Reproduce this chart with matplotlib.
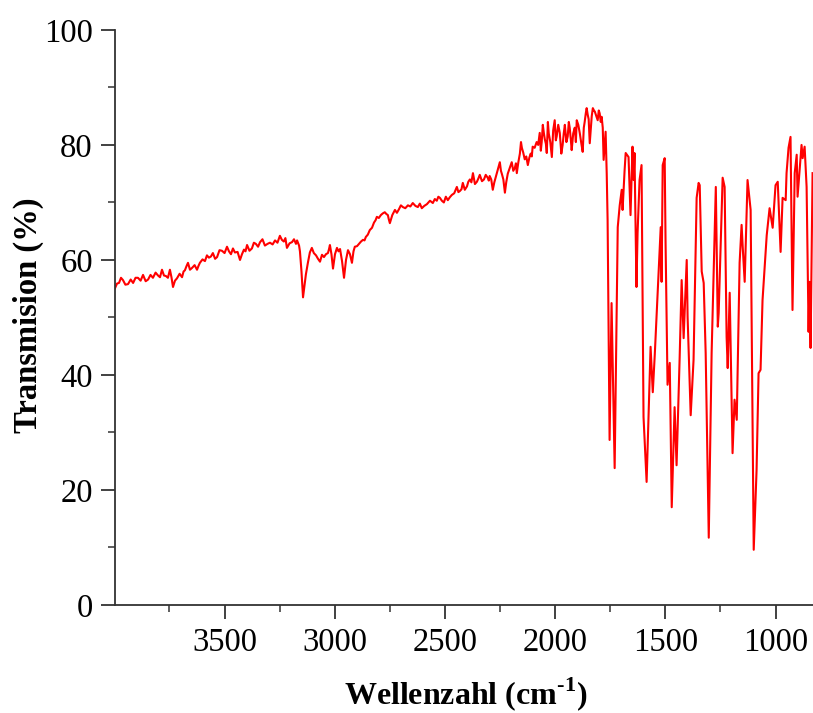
import numpy as np
import matplotlib
matplotlib.use("Agg")
import matplotlib.pyplot as plt
from matplotlib.ticker import MultipleLocator

plt.rcParams['font.family'] = ['Liberation Serif', 'DejaVu Serif']
plt.rcParams['mathtext.fontset'] = 'custom'
plt.rcParams['mathtext.rm'] = 'Liberation Serif:bold'
plt.rcParams['mathtext.bf'] = 'Liberation Serif:bold'

# IR spectrum (wavenumber in cm-1, transmission in %)
wellenzahl = [
    3997, 3988, 3979, 3970, 3961, 3950, 3938, 3926, 3915, 3904,
    3893, 3881, 3870, 3858, 3847, 3836, 3825, 3813, 3802, 3793,
    3784, 3775, 3766, 3757, 3748, 3741, 3734, 3725, 3716, 3704,
    3693, 3686, 3680, 3673, 3666, 3657, 3648, 3636, 3625, 3618,
    3612, 3600, 3589, 3580, 3571, 3562, 3553, 3543, 3534, 3523,
    3512, 3500, 3489, 3480, 3471, 3462, 3453, 3441, 3430, 3421,
    3412, 3405, 3398, 3387, 3376, 3367, 3358, 3348, 3339, 3328,
    3317, 3305, 3294, 3282, 3271, 3260, 3249, 3240, 3231, 3224,
    3217, 3205, 3194, 3185, 3176, 3171, 3167, 3162, 3158, 3151,
    3144, 3131, 3122, 3113, 3104, 3095, 3085, 3076, 3067, 3058,
    3049, 3040, 3031, 3026, 3022, 3015, 3008, 2999, 2990, 2983,
    2976, 2967, 2958, 2949, 2940, 2931, 2922, 2915, 2909, 2899,
    2890, 2881, 2872, 2865, 2859, 2850, 2841, 2831, 2822, 2815,
    2809, 2800, 2791, 2782, 2773, 2766, 2759, 2755, 2750, 2739,
    2727, 2718, 2709, 2700, 2691, 2680, 2668, 2657, 2646, 2634,
    2623, 2614, 2605, 2594, 2582, 2568, 2555, 2546, 2537, 2530,
    2523, 2514, 2505, 2496, 2487, 2478, 2469, 2458, 2446, 2439,
    2432, 2425, 2419, 2410, 2400, 2394, 2387, 2380, 2373, 2364,
    2355, 2348, 2342, 2332, 2323, 2315, 2306, 2301, 2297, 2290,
    2283, 2276, 2269, 2260, 2251, 2246, 2242, 2235, 2228, 2222,
    2215, 2206, 2197, 2190, 2183, 2178, 2174, 2167, 2160, 2155,
    2151, 2145, 2138, 2131, 2124, 2117, 2111, 2106, 2102, 2093,
    2084, 2077, 2070, 2065, 2061, 2056, 2051, 2047, 2042, 2038,
    2033, 2029, 2022, 2015, 2009, 2002, 1997, 1993, 1986, 1979,
    1972, 1966, 1961, 1956, 1949, 1943, 1938, 1934, 1929, 1925,
    1918, 1911, 1906, 1902, 1895, 1888, 1881, 1875, 1870, 1866,
    1861, 1857, 1852, 1848, 1845, 1843, 1838, 1834, 1829, 1824,
    1820, 1813, 1807, 1802, 1798, 1793, 1789, 1784, 1780, 1775,
    1771, 1766, 1762, 1753, 1744, 1730, 1716, 1707, 1698, 1694,
    1685, 1680, 1667, 1658, 1649, 1644, 1640, 1631, 1626, 1617,
    1608, 1599, 1585, 1567, 1557, 1548, 1535, 1521, 1517, 1512,
    1503, 1499, 1490, 1480, 1471, 1458, 1449, 1435, 1426, 1417,
    1403, 1399, 1385, 1372, 1358, 1349, 1344, 1335, 1326, 1317,
    1303, 1290, 1271, 1262, 1258, 1240, 1231, 1222, 1217, 1208,
    1195, 1186, 1176, 1163, 1154, 1149, 1140, 1127, 1113, 1099,
    1086, 1077, 1068, 1059, 1040, 1027, 1013, 1000, 990, 977,
    968, 954, 950, 941, 932, 923, 913, 904, 900, 882,
    877, 868, 859, 850, 846, 841, 832,
]
transmission = [
    55.1, 55.9, 56.0, 56.9, 56.5, 55.7, 55.8, 56.6, 56.0, 56.9,
    56.9, 56.4, 57.4, 56.3, 56.6, 57.4, 56.9, 57.8, 57.3, 57.0,
    58.3, 57.3, 57.2, 56.9, 58.3, 57.0, 55.3, 56.4, 56.8, 57.6,
    57.0, 58.0, 58.2, 58.9, 59.5, 58.3, 58.6, 59.1, 58.3, 59.0,
    59.5, 60.1, 59.8, 60.8, 60.4, 60.6, 61.2, 60.2, 60.5, 61.7,
    61.6, 61.2, 62.3, 61.5, 61.0, 62.0, 61.3, 61.4, 60.0, 61.0,
    61.8, 61.5, 62.6, 61.6, 62.0, 63.0, 62.8, 62.3, 63.1, 63.6,
    62.5, 62.8, 63.0, 62.7, 63.4, 63.0, 64.2, 63.5, 63.2, 63.8,
    62.1, 62.9, 63.1, 63.6, 62.8, 63.4, 63.0, 62.5, 61.5, 58.0,
    53.5, 57.5, 59.5, 61.3, 62.1, 61.2, 60.8, 60.2, 59.7, 60.9,
    60.5, 61.0, 61.2, 61.9, 62.6, 61.0, 58.5, 61.0, 62.1, 61.5,
    61.9, 59.8, 56.9, 60.0, 61.7, 61.0, 59.5, 61.5, 62.3, 62.4,
    62.8, 63.2, 63.5, 63.4, 64.0, 64.4, 65.2, 65.6, 66.5, 66.9,
    67.5, 67.3, 67.8, 68.1, 68.3, 68.0, 67.8, 67.1, 66.4, 67.8,
    68.7, 68.2, 68.8, 69.5, 69.2, 69.0, 69.5, 69.3, 69.9, 69.4,
    69.2, 69.8, 69.0, 69.4, 69.7, 70.3, 69.9, 70.6, 70.3, 71.0,
    70.8, 70.3, 70.0, 71.0, 70.4, 70.9, 71.3, 71.6, 72.7, 71.8,
    72.0, 72.3, 73.4, 72.2, 72.8, 73.6, 74.0, 73.5, 75.1, 73.2,
    73.6, 74.2, 74.8, 73.7, 74.0, 74.8, 74.3, 73.8, 74.6, 74.0,
    72.2, 73.5, 74.5, 75.8, 77.0, 75.5, 75.0, 74.0, 71.7, 73.5,
    75.0, 76.0, 77.0, 75.5, 76.0, 76.8, 75.1, 77.0, 78.5, 80.5,
    79.5, 78.7, 77.5, 78.0, 76.5, 77.8, 78.5, 78.0, 79.7, 79.5,
    80.5, 80.0, 82.1, 79.0, 80.5, 83.5, 82.0, 81.0, 80.2, 78.6,
    84.0, 82.0, 80.5, 77.9, 82.5, 84.3, 80.8, 81.5, 83.5, 82.1,
    78.5, 80.0, 82.0, 83.5, 80.5, 81.5, 84.0, 83.0, 81.0, 79.1,
    82.0, 83.0, 80.5, 84.3, 83.5, 82.0, 80.2, 78.8, 83.0, 84.0,
    85.5, 86.4, 85.2, 84.5, 82.0, 80.3, 83.0, 85.0, 86.4, 86.0,
    85.8, 85.0, 84.3, 86.0, 85.5, 84.0, 84.9, 83.0, 77.4, 80.0,
    82.3, 75.0, 67.0, 28.7, 52.5, 23.8, 65.7, 69.5, 72.2, 68.7,
    75.5, 78.6, 77.9, 67.8, 79.7, 73.9, 78.6, 55.3, 64.7, 73.9,
    76.5, 32.7, 21.4, 44.9, 37.0, 43.5, 54.3, 65.7, 56.2, 76.5,
    77.7, 63.0, 38.3, 42.1, 17.0, 34.4, 24.3, 43.1, 56.5, 46.4,
    60.0, 50.1, 33.0, 42.6, 70.8, 73.4, 73.0, 58.0, 56.0, 43.8,
    11.7, 43.8, 72.7, 48.4, 50.8, 74.3, 72.7, 46.6, 41.2, 54.3,
    26.4, 35.7, 32.2, 59.5, 66.1, 62.3, 56.2, 73.9, 68.7, 9.6,
    23.5, 40.3, 40.9, 53.0, 64.3, 69.0, 65.6, 73.0, 73.6, 61.4,
    70.8, 70.4, 75.1, 79.5, 81.4, 51.3, 75.1, 78.3, 71.0, 80.0,
    77.7, 79.7, 72.7, 47.5, 56.2, 44.7, 75.1,
]

fig = plt.figure(figsize=(8.13, 7.13), dpi=100)
ax = fig.add_axes([0.1415, 0.1515, 0.8585, 0.8065])

ax.plot(wellenzahl, transmission, color='#ff0000', lw=1.5)

ax.set_xlim(3997, 830)
ax.set_ylim(0, 100)
ax.xaxis.set_major_locator(MultipleLocator(500))
ax.xaxis.set_minor_locator(MultipleLocator(250))
ax.yaxis.set_major_locator(MultipleLocator(20))
ax.yaxis.set_minor_locator(MultipleLocator(10))

for s in ['top', 'right']:
    ax.spines[s].set_visible(False)
for s in ['left', 'bottom']:
    ax.spines[s].set_color('#333333')
    ax.spines[s].set_linewidth(1.3)

ax.tick_params(which='major', direction='out', length=10, width=1.3,
               color='#333333', labelsize=23.5, pad=6)
ax.tick_params(which='minor', direction='out', length=5, width=1.1,
               color='#333333')

# axis titles placed directly in figure coords
fig.text(466 / 813, 1 - 694 / 713, 'Wellenzahl (cm$^{\\text{-1}}$)',
         fontsize=23, fontweight='bold', ha='center', va='center')
fig.text(28 / 813, 1 - 315 / 713, 'Transmision (%)', fontsize=23.5,
         fontweight='bold', rotation=90, ha='center', va='center')

fig.savefig('out.png', dpi=100)
